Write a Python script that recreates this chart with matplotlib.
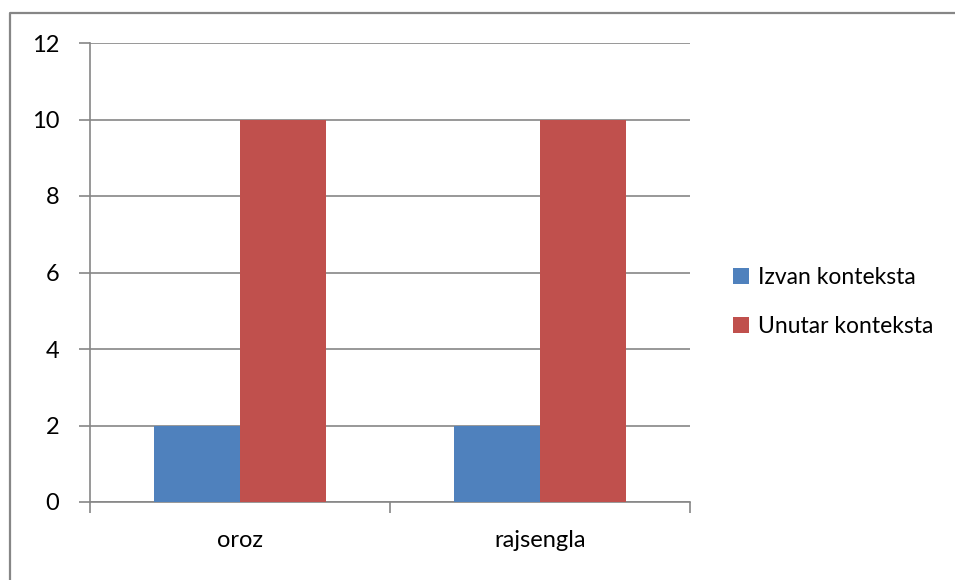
import matplotlib
matplotlib.use('Agg')
import matplotlib.pyplot as plt
from matplotlib.lines import Line2D
import numpy as np

plt.rcParams['font.family'] = ['Lato', 'DejaVu Sans']

categories = ['oroz', 'rajsengla']
izvan = [2, 2]
unutar = [10, 10]
series_names = ['Izvan konteksta', 'Unutar konteksta']
yticks = [0, 2, 4, 6, 8, 10, 12]

blue = '#4F81BD'
red = '#C0504D'
grey = '#868686'
fs = 17

fig = plt.figure(figsize=(9.55, 5.8), dpi=100)
# outer chart border (only top and left are inside the picture)
fig.lines.append(Line2D([10 / 955, 10 / 955, 1.01], [-0.01, 1 - 13 / 580, 1 - 13 / 580],
                        transform=fig.transFigure, color=grey, linewidth=1.6))

ax = fig.add_axes([90 / 955, 78 / 580, 600 / 955, 459 / 580])
x = np.arange(len(categories))
w = 0.287
ax.bar(x - w / 2, izvan, w, color=blue, label=series_names[0], zorder=3)
ax.bar(x + w / 2, unutar, w, color=red, label=series_names[1], zorder=3)

ax.set_xlim(-0.5, 1.5)
ax.set_ylim(0, 12)
ax.set_yticks(yticks)
ax.yaxis.grid(True, color=grey, linewidth=1.2, zorder=0)
ax.set_xticks([-0.5, 0.5, 1.5])
ax.set_xticklabels([])
ax.set_xticks(x, minor=True)
ax.set_xticklabels(categories, minor=True)
ax.tick_params(axis='x', which='minor', length=0, pad=20, labelsize=fs)
ax.tick_params(axis='x', which='major', length=8, width=1.2, color=grey)
ax.tick_params(axis='y', length=8, width=1.2, color=grey, labelsize=fs, pad=14)
for s in ['top', 'right']:
    ax.spines[s].set_visible(False)
for s in ['left', 'bottom']:
    ax.spines[s].set_color(grey)
    ax.spines[s].set_linewidth(1.2)

leg = fig.legend(loc='center left', bbox_to_anchor=(712 / 955, 1 - 302 / 580),
                 frameon=False, fontsize=16.5, handlelength=0.7, handleheight=0.7,
                 handletextpad=0.4, labelspacing=1.25)

fig.savefig('out.png', dpi=100)
